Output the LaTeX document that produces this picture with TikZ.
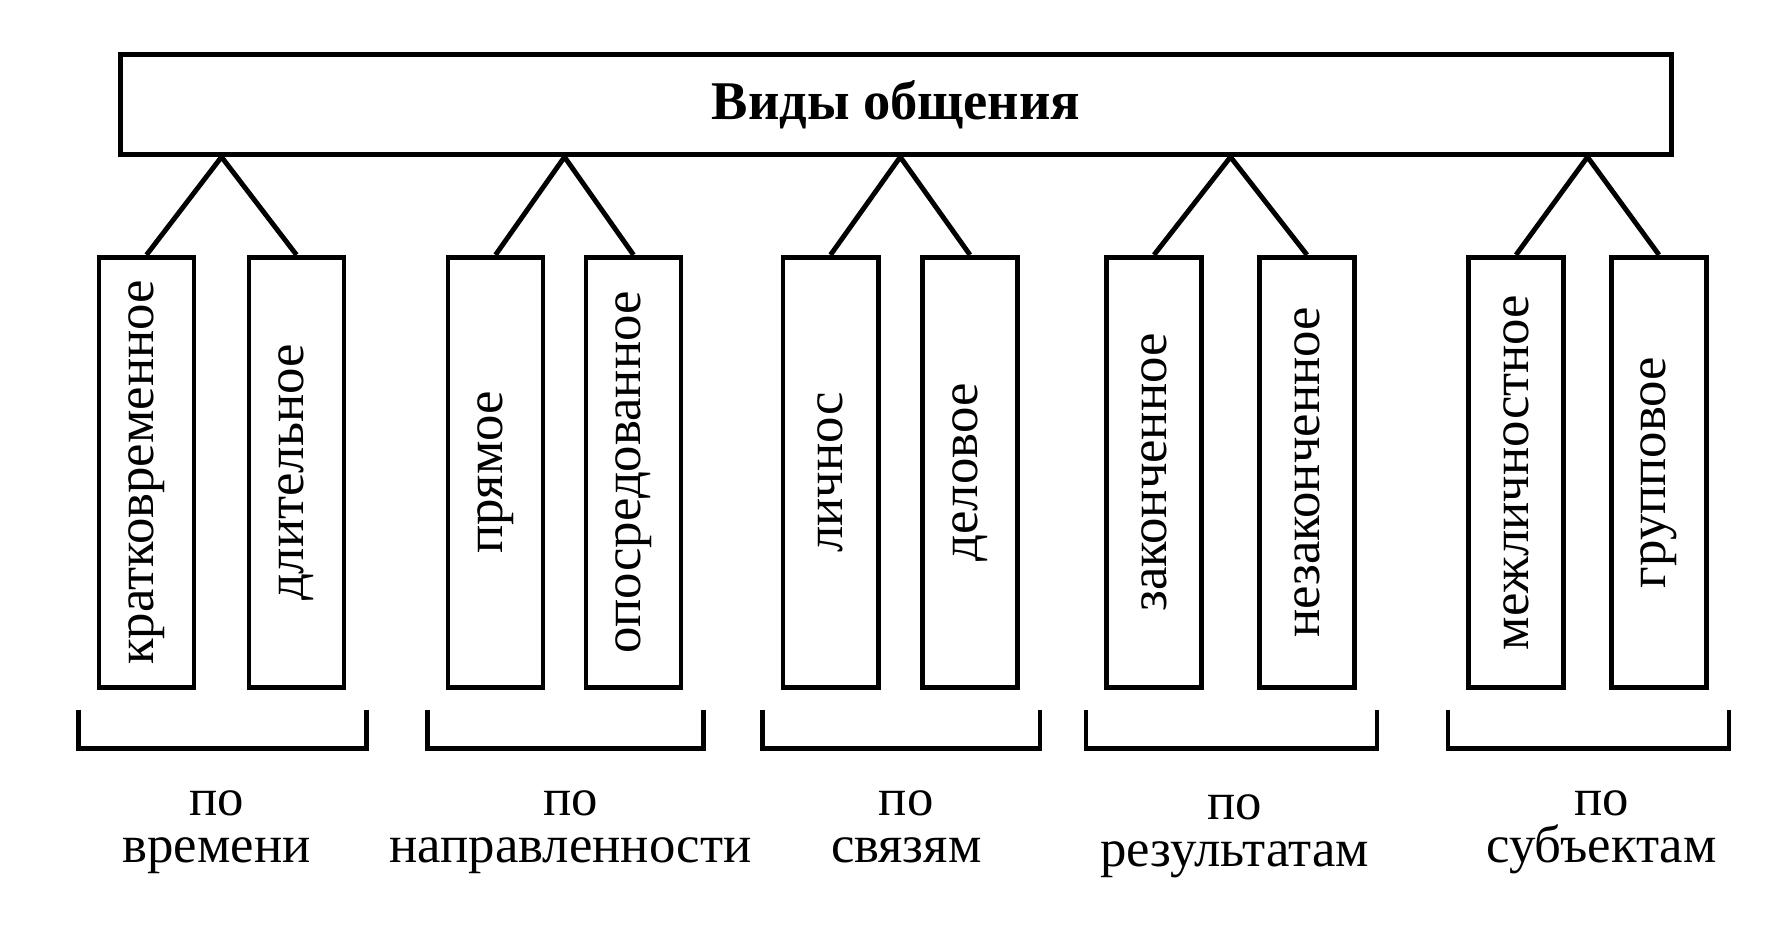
\documentclass[tikz,border=0pt]{standalone}
\usepackage{fontspec}
\setmainfont{Liberation Serif}
\usetikzlibrary{calc}

\newcommand\uptext[1]{\rotatebox{90}{#1}}

\begin{document}
\begin{tikzpicture}[x=0.01cm,y=0.01cm,line width=1.4pt,
  root/.style={draw,minimum width=15.5cm,minimum height=1.0cm,
    font=\fontsize{15.5pt}{18pt}\selectfont\bfseries},
  kind/.style={draw,minimum width=0.95cm,minimum height=4.3cm,inner sep=0pt,
    font=\fontsize{15pt}{17pt}\selectfont},
  basis/.style={align=center,anchor=north,inner sep=0pt,
    font=\fontsize{15pt}{13.5pt}\selectfont}]
  \useasboundingbox (0,0) rectangle (1773,924);
  \node[root] (top) at (896,819.5) {Виды общения};
  % kinds of communication
  \node[kind] (k1) at (146.5,451.5) {\uptext{кратковременное}};
  \node[kind] (k2) at (296.5,451.5) {\uptext{длительное}};
  \node[kind] (k3) at (495.5,451.5) {\uptext{прямое}};
  \node[kind] (k4) at (633.5,451.5) {\uptext{опосредованное}};
  \node[kind] (k5) at (830.5,451.5) {\uptext{личнос}};
  \node[kind] (k6) at (970,451.5) {\uptext{деловое}};
  \node[kind] (k7) at (1154,451.5) {\uptext{законченное}};
  \node[kind] (k8) at (1307,451.5) {\uptext{незаконченное}};
  \node[kind] (k9) at (1516,451.5) {\uptext{межличностное}};
  \node[kind] (k10) at (1659,451.5) {\uptext{групповое}};
  % legs and brackets
  \foreach \a/\b in {k1/k2,k3/k4,k5/k6,k7/k8,k9/k10}{
    \coordinate (m) at ($(\a.north)!0.5!(\b.north)$);
    \draw (\a.north) -- (m |- top.south) -- (\b.north);
    \draw ($(\a.south west)+(-18,-20)$) |- ($(\b.south east)+(20,-58)$) -- ++(0,38);
  }
  % bases
  \node[basis] (l1) at ($(k1.south)!0.5!(k2.south)+(-5,-98)$) {по\\времени};
  \node[basis] (l2) at ($(k3.south)!0.5!(k4.south)+(6,-98)$) {по\\направленности};
  \node[basis] (l3) at ($(k5.south)!0.5!(k6.south)+(6,-98)$) {по\\связям};
  \node[basis] (l4) at ($(k7.south)!0.5!(k8.south)+(4,-102)$) {по\\результатам};
  \node[basis] (l5) at ($(k9.south)!0.5!(k10.south)+(14,-98)$) {по\\субъектам};
\end{tikzpicture}
\end{document}
